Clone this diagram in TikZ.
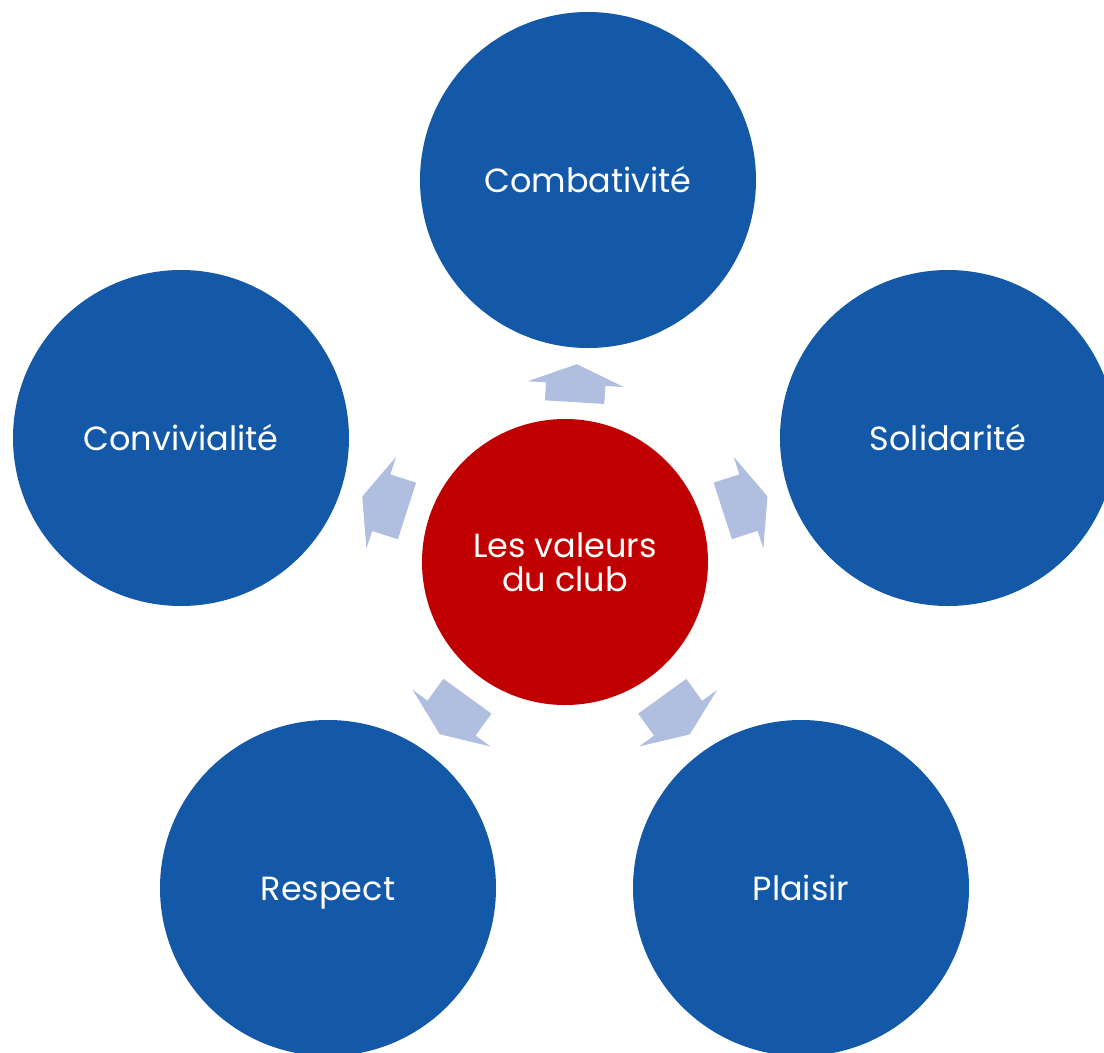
\documentclass[tikz,border=0pt]{standalone}
\usepackage{fontspec}
\setmainfont{Poppins}
\usetikzlibrary{shapes.arrows}
\definecolor{valblue}{RGB}{19,89,167}
\definecolor{valred}{RGB}{192,0,0}
\definecolor{valarrow}{RGB}{176,190,223}
\tikzset{
  valcircle/.style={circle, fill=valblue, minimum size=336pt, inner sep=0pt,
    text=white, text height=30pt, text depth=6pt,
    font=\fontsize{33.5}{34}\selectfont},
  valcore/.style={circle, fill=valred, minimum size=286pt, inner sep=0pt,
    text=white, align=center, font=\fontsize{33.5}{34}\selectfont},
  valtip/.style={single arrow, fill=valarrow, inner xsep=0pt, inner ysep=29.5pt,
    single arrow head extend=18.5pt, single arrow tip angle=135,
    sloped, allow upside down, anchor=tail}
}

\begin{document}
\begin{tikzpicture}[x=1pt, y=-1pt]
\useasboundingbox (0,0) rectangle (1104,1053);
\clip (0,0) rectangle (1104,1053);
% the core and the five values
\node[valcore](core) at (565, 562) {Les valeurs\\du club};
\node[valcircle](comb) at (588, 180) {Combativité};
\node[valcircle](soli) at (948, 438) {Solidarité};
\node[valcircle](conv) at (181, 438) {Convivialité};
\node[valcircle](plai) at (801, 888) {Plaisir};
\node[valcircle](resp) at (328, 888) {Respect};
% block arrows in the gaps
\path (core) -- (comb) node[valtip, pos=0.235, minimum height=38pt] {};
\path (core) -- (soli) node[valtip, pos=0.246, minimum height=47pt] {};
\path (core) -- (conv) node[valtip, pos=0.246, minimum height=47pt] {};
\path (core) -- (plai) node[valtip, pos=0.246, minimum height=47pt] {};
\path (core) -- (resp) node[valtip, pos=0.246, minimum height=47pt] {};
\end{tikzpicture}
\end{document}
